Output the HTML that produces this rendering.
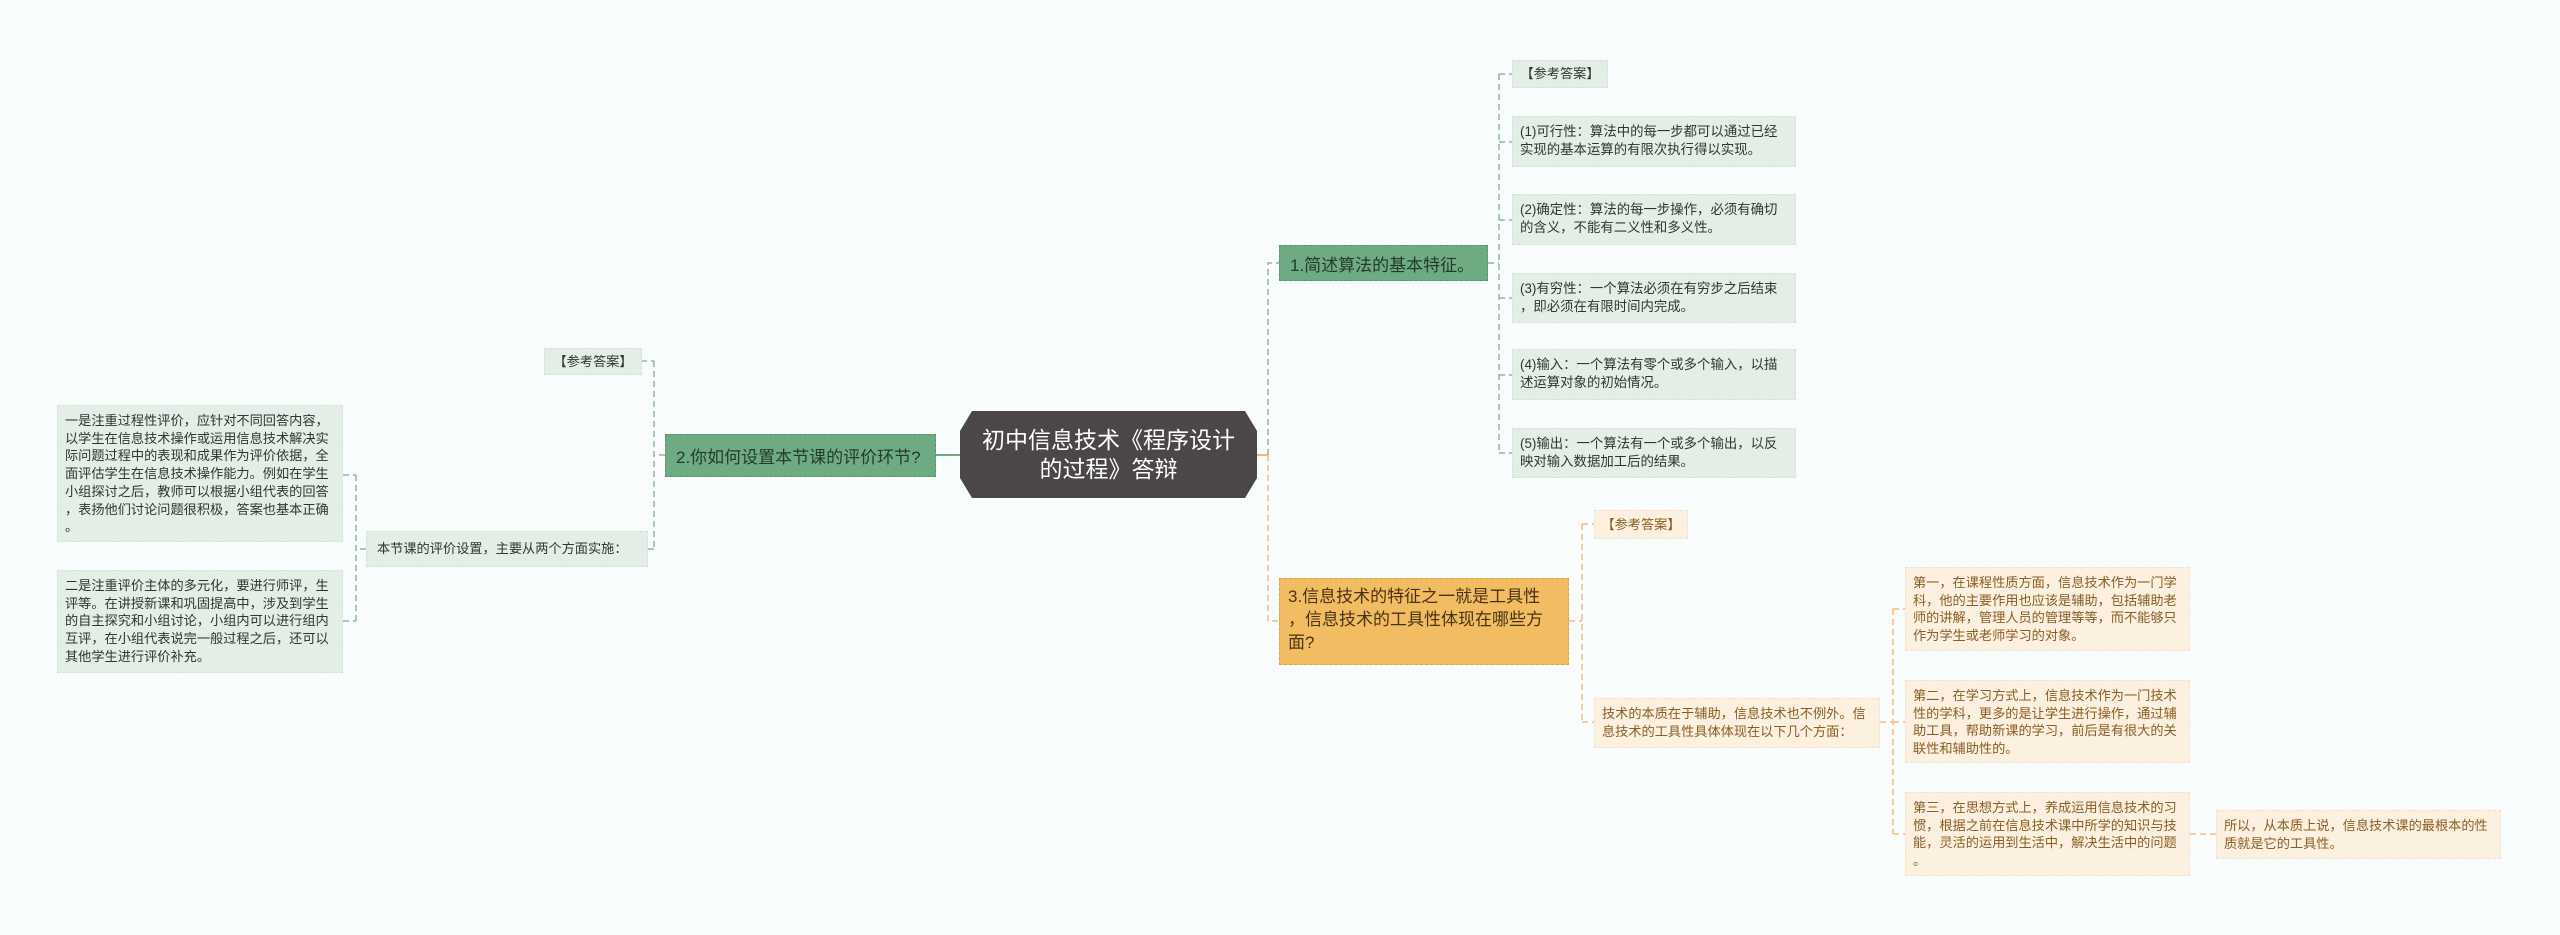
<!DOCTYPE html>
<html><head><meta charset="utf-8"><style>
body{margin:0;width:2560px;height:935px;background:#f8fcfc;position:relative;overflow:hidden;font-family:"Liberation Sans","Noto Sans CJK SC",sans-serif;}
.n{position:absolute;box-sizing:border-box;color:#333;line-break:anywhere;}
.g{background:#e3efe6;border:1px dashed #d3e3d7;font-size:13.2px;line-height:17.7px;padding:6px 6px 6px 7px;word-break:break-all;}
.r{padding-right:12px;font-size:13.4px;}
.o{background:#fcf0e0;border:1px dashed #f3e0c6;font-size:13.2px;line-height:17.5px;padding:6px 6px 6px 7px;color:#8b5e22;word-break:break-all;}
.gb{background:#6eab82;border:1px dashed #5a9670;font-size:17px;padding:0 10px;color:#243a2c;display:flex;align-items:center;}
.ob{background:#f1bc62;border:1px dashed #dca548;font-size:17px;line-height:23px;padding:6px 6px 6px 8px;color:#4a3410;}
.c{display:flex;align-items:center;}
</style></head><body>
<svg width="2560" height="935" style="position:absolute;left:0;top:0">
<g fill="none" stroke-width="1.5" stroke-dasharray="6,4">
<g stroke="#8fb89b">
<path d="M936 455 H960" stroke-dasharray="none" stroke-width="2" stroke="#6eab82"/>
<path d="M665 455 H654 M654 361 V549 M641 361 H654 M648 549 H654"/>
<path d="M366 549 H356 M356 475 V621 M343 475 H356 M343 621 H356"/>
<path d="M1268 455 V263 H1279"/>
<path d="M1488 263 H1499 M1499 74 V453 M1499 74 H1512 M1499 142 H1512 M1499 220 H1512 M1499 298 H1512 M1499 375 H1512 M1499 453 H1512"/>
</g>
<g stroke="#efc07a">
<path d="M1257 455 H1268" stroke-dasharray="none" stroke-width="2" stroke="#f1bc62"/>
<path d="M1268 455 V621 H1279"/>
<path d="M1569 621 H1582 M1582 524 V722 M1582 524 H1594 M1582 722 H1594"/>
<path d="M1880 722 H1893 M1893 609 V834 M1893 609 H1905 M1893 722 H1905 M1893 834 H1905"/>
<path d="M2190 834 H2216"/>
</g>
</g>
<polygon points="972,411 1245,411 1257,431 1257,478 1245,498 972,498 960,478 960,431" fill="#4b4747"/>
</svg>
<div class="n c" style="left:960px;top:411px;width:297px;height:87px;justify-content:center;text-align:center;color:#fff;font-size:23px;line-height:29px;">初中信息技术《程序设计<br>的过程》答辩</div>

<div class="n gb" style="left:665px;top:434px;width:271px;height:43px;">2.你如何设置本节课的评价环节?</div>
<div class="n g c" style="left:544px;top:348px;width:98px;height:27px;justify-content:center;padding:0">【参考答案】</div>
<div class="n g c" style="left:366px;top:531px;width:282px;height:36px;padding:0 10px">本节课的评价设置，主要从两个方面实施：</div>
<div class="n g" style="left:57px;top:405px;width:286px;height:137px;">一是注重过程性评价，应针对不同回答内容，以学生在信息技术操作或运用信息技术解决实际问题过程中的表现和成果作为评价依据，全面评估学生在信息技术操作能力。例如在学生小组探讨之后，教师可以根据小组代表的回答，表扬他们讨论问题很积极，答案也基本正确。</div>
<div class="n g" style="left:57px;top:570px;width:286px;height:103px;">二是注重评价主体的多元化，要进行师评，生评等。在讲授新课和巩固提高中，涉及到学生的自主探究和小组讨论，小组内可以进行组内互评，在小组代表说完一般过程之后，还可以其他学生进行评价补充。</div>

<div class="n gb" style="left:1279px;top:245px;width:209px;height:36px;">1.简述算法的基本特征。</div>
<div class="n g c" style="left:1512px;top:60px;width:96px;height:28px;justify-content:center;padding:0">【参考答案】</div>
<div class="n g r" style="left:1512px;top:116px;width:284px;height:51px;">(1)可行性：算法中的每一步都可以通过已经实现的基本运算的有限次执行得以实现。</div>
<div class="n g r" style="left:1512px;top:194px;width:284px;height:51px;">(2)确定性：算法的每一步操作，必须有确切的含义，不能有二义性和多义性。</div>
<div class="n g r" style="left:1512px;top:273px;width:284px;height:50px;">(3)有穷性：一个算法必须在有穷步之后结束，即必须在有限时间内完成。</div>
<div class="n g r" style="left:1512px;top:349px;width:284px;height:51px;">(4)输入：一个算法有零个或多个输入，以描述运算对象的初始情况。</div>
<div class="n g r" style="left:1512px;top:428px;width:284px;height:50px;">(5)输出：一个算法有一个或多个输出，以反映对输入数据加工后的结果。</div>

<div class="n ob" style="left:1279px;top:578px;width:290px;height:87px;">3.信息技术的特征之一就是工具性<br>，信息技术的工具性体现在哪些方<br>面?</div>
<div class="n o c" style="left:1594px;top:510px;width:94px;height:29px;justify-content:center;padding:0">【参考答案】</div>
<div class="n o" style="left:1594px;top:698px;width:286px;height:50px;">技术的本质在于辅助，信息技术也不例外。信息技术的工具性具体体现在以下几个方面：</div>
<div class="n o" style="left:1905px;top:567px;width:285px;height:84px;">第一，在课程性质方面，信息技术作为一门学科，他的主要作用也应该是辅助，包括辅助老师的讲解，管理人员的管理等等，而不能够只作为学生或老师学习的对象。</div>
<div class="n o" style="left:1905px;top:680px;width:285px;height:83px;">第二，在学习方式上，信息技术作为一门技术性的学科，更多的是让学生进行操作，通过辅助工具，帮助新课的学习，前后是有很大的关联性和辅助性的。</div>
<div class="n o" style="left:1905px;top:792px;width:285px;height:84px;">第三，在思想方式上，养成运用信息技术的习惯，根据之前在信息技术课中所学的知识与技能，灵活的运用到生活中，解决生活中的问题。</div>
<div class="n o" style="left:2216px;top:810px;width:285px;height:49px;">所以，从本质上说，信息技术课的最根本的性质就是它的工具性。</div>
</body></html>
